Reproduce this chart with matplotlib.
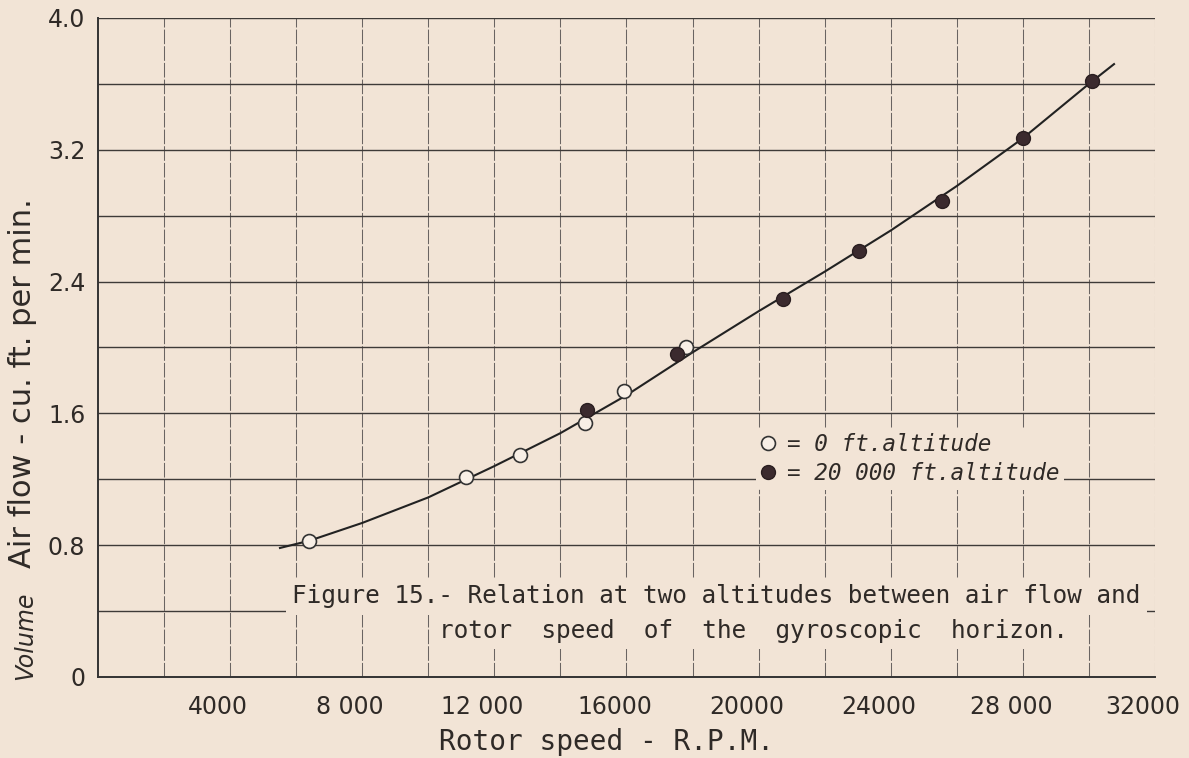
import numpy as np
import matplotlib
matplotlib.use("Agg")
import matplotlib.pyplot as plt
from matplotlib.transforms import ScaledTranslation

# data
rpm_sea = [6400, 11130, 12770, 14750, 15920, 17790]
flow_sea = [0.827, 1.214, 1.349, 1.544, 1.738, 2.005]

rpm_alt = [14790, 17540, 20750, 23040, 25540, 27990, 30100]
flow_alt = [1.62, 1.96, 2.293, 2.586, 2.89, 3.27, 3.617]

# faired curve drawn through the points
curve_rpm = [5510, 6400, 8000, 10000, 12000, 14000, 16000, 18000, 20000,
             22000, 24000, 26000, 28000, 30000, 30760]
curve_flow = [0.783, 0.827, 0.935, 1.09, 1.28, 1.48, 1.71, 1.97, 2.22,
              2.46, 2.71, 2.98, 3.27, 3.60, 3.72]

xticks = [4000, 8000, 12000, 16000, 20000, 24000, 28000, 32000]
xtick_labels = ['4000', '8 000', '12 000', '16000', '20000', '24000', '28 000', '32000']
yticks = [0, 0.8, 1.6, 2.4, 3.2, 4.0]
ytick_labels = ['0', '0.8', '1.6', '2.4', '3.2', '4.0']

bg = '#f2e4d6'
ink = '#2f2a27'
mono = 'DejaVu Sans Mono'

plt.rcParams['font.family'] = ['DejaVu Sans']

fig = plt.figure(figsize=(11.89, 7.58), dpi=100, facecolor=bg)
ax = fig.add_axes([0.0824, 0.1069, 0.889, 0.8694])
ax.set_facecolor(bg)

ax.set_xlim(0, 32000)
ax.set_ylim(0, 4.0)

# grid
for gx in np.arange(2000, 32001, 2000):
    ax.axvline(gx, color='#6a6462', lw=0.75, ls=(0, (14, 2)), zorder=1)
for gy in np.arange(0.4, 4.01, 0.4):
    ax.axhline(gy, color='#3e3a38', lw=1.0, zorder=1)

for s in ['top', 'right']:
    ax.spines[s].set_visible(False)
for s in ['left', 'bottom']:
    ax.spines[s].set_color('#333')
    ax.spines[s].set_linewidth(1.4)

ax.set_xticks(xticks)
ax.set_xticklabels(xtick_labels, fontsize=17, color=ink)
ax.set_yticks(yticks)
ax.set_yticklabels(ytick_labels, fontsize=17, color=ink)
ax.tick_params(length=0)
ax.tick_params(axis='x', pad=13)
ax.tick_params(axis='y', pad=9)
# hand-lettered labels sit a little left of their grid lines
shift = ScaledTranslation(-0.12, 0, fig.dpi_scale_trans)
for lbl in ax.get_xticklabels():
    lbl.set_transform(lbl.get_transform() + shift)

ax.plot(curve_rpm, curve_flow, color='#222', lw=1.5, zorder=4)
h1, = ax.plot(rpm_sea, flow_sea, 'o', ms=10, mfc='#f8efe6', mec='#333', mew=1.2,
              zorder=5, label='= 0 ft.altitude')
h2, = ax.plot(rpm_alt, flow_alt, 'o', ms=10, mfc='#3b2a2e', mec='#2a1e20', mew=1.0,
              zorder=5, label='= 20 000 ft.altitude')

leg = ax.legend(handles=[h1, h2], loc='upper left', bbox_to_anchor=(0.612, 0.395),
                frameon=True, facecolor=bg, edgecolor='none', framealpha=1,
                handlelength=0.6, handletextpad=0.55, borderpad=0.2,
                labelspacing=0.3,
                prop={'family': mono, 'style': 'italic', 'size': 16.3})
for t in leg.get_texts():
    t.set_color(ink)
leg.set_zorder(6)

# caption inside the plot
ax.text(0.1835, 0.112, 'Figure 15.- Relation at two altitudes between air flow and',
        transform=ax.transAxes, fontsize=17.6, family=mono, color=ink,
        va='baseline', ha='left', zorder=6,
        bbox=dict(facecolor=bg, edgecolor='none', pad=4.5))
ax.text(0.323, 0.059, 'rotor  speed  of  the  gyroscopic  horizon.',
        transform=ax.transAxes, fontsize=17.6, family=mono, color=ink,
        va='baseline', ha='left', zorder=6,
        bbox=dict(facecolor=bg, edgecolor='none', pad=4.5))

ax.set_xlabel('Rotor speed - R.P.M.', fontsize=20, family=mono, color=ink)
ax.xaxis.set_label_coords(0.4815, -0.077)

fig.text(0.019, 0.495, 'Air flow - cu. ft. per min.', rotation=90, fontsize=22,
         color=ink, ha='center', va='center')
fig.text(0.021, 0.161, 'Volume', rotation=90, fontsize=17, style='italic',
         color=ink, ha='center', va='center')

fig.savefig('out.png', dpi=100, facecolor=bg)
